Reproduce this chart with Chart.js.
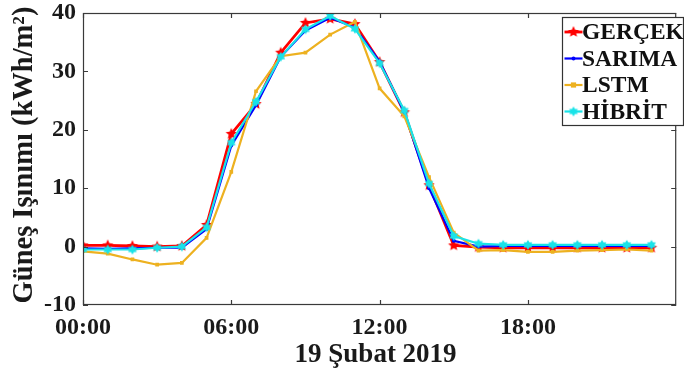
<!DOCTYPE html>
<html>
<head>
<meta charset="utf-8">
<script src="https://cdn.jsdelivr.net/npm/chart.js@4.4.1/dist/chart.umd.min.js"></script>
<style>
html,body{margin:0;padding:0;background:#fff;}
#wrap{width:684px;height:383px;position:relative;}
</style>
</head>
<body>
<div id="wrap"><canvas id="c" width="684" height="383"></canvas></div>
<script>
const hours = [0,1,2,3,4,5,6,7,8,9,10,11,12,13,14,15,16,17,18,19,20,21,22,23];
const gercek = [0.2,0.2,0.1,0.0,0.1,3.7,19.3,24.4,33.2,38.3,39.0,38.1,31.6,23.0,10.5,0.2,-0.1,-0.2,-0.2,-0.2,-0.2,-0.2,-0.2,-0.2];
const sarima = [-0.3,-0.4,-0.3,-0.2,-0.2,3.0,17.3,24.2,32.5,37.0,39.2,37.5,31.7,23.0,10.0,1.0,0.0,0.1,0.1,0.1,0.1,0.1,0.1,0.1];
const lstm   = [-0.8,-1.2,-2.2,-3.1,-2.8,1.5,12.8,26.6,32.6,33.2,36.3,38.5,27.1,22.3,11.9,2.4,-0.7,-0.6,-0.9,-0.9,-0.7,-0.6,-0.5,-0.7];
const hibrit = [-0.5,-0.5,-0.5,-0.2,0.0,3.3,17.8,24.8,32.5,37.2,39.5,37.3,31.4,23.3,10.8,1.8,0.5,0.3,0.3,0.3,0.3,0.3,0.3,0.3];
const seriesNames = ['GERÇEK','SARIMA','LSTM','HİBRİT'];
const xTickValues = [0,6,12,18];
const xTickLabels = ['00:00','06:00','12:00','18:00'];
const yTickValues = [-10,0,10,20,30,40];
const xTitle = '19 Şubat 2019';
const yTitle = 'Güneş Işınımı (kWh/m²)';

const FONT = '"Liberation Serif","Times New Roman",serif';
const colors = ['#ff0000','#0000ff','#edb120','#19e3e8'];

function starCanvas(color, n, outer, inner) {
  const s = Math.ceil(outer*2+2);
  const cv = document.createElement('canvas');
  cv.width = s; cv.height = s;
  const g = cv.getContext('2d');
  g.fillStyle = color;
  g.beginPath();
  for (let i = 0; i < n*2; i++) {
    const r = i % 2 === 0 ? outer : inner;
    const a = -Math.PI/2 + i*Math.PI/n;
    const px = s/2 + r*Math.cos(a), py = s/2 + r*Math.sin(a);
    if (i === 0) g.moveTo(px, py); else g.lineTo(px, py);
  }
  g.closePath();
  g.fill();
  return cv;
}
const redStar = starCanvas('#ff0000', 5, 6, 2.8);
const cyanStar = starCanvas('#19e3e8', 6, 5, 3);

function pts(arr){ return hours.map((h,i)=>({x:h,y:arr[i]})); }

const datasets = [
  {label:seriesNames[0], data:pts(gercek), borderColor:colors[0], backgroundColor:colors[0], borderWidth:2.8, pointStyle:redStar, pointRadius:5, order:4},
  {label:seriesNames[1], data:pts(sarima), borderColor:colors[1], backgroundColor:colors[1], borderWidth:2.2, pointStyle:'circle', pointRadius:2, pointBorderWidth:0, order:3},
  {label:seriesNames[2], data:pts(lstm), borderColor:colors[2], backgroundColor:colors[2], borderWidth:2.2, pointStyle:'rect', pointRadius:2.6, pointBorderWidth:0, order:2},
  {label:seriesNames[3], data:pts(hibrit), borderColor:colors[3], backgroundColor:colors[3], borderWidth:2.2, pointStyle:cyanStar, pointRadius:4, order:1}
];

const AXIS = '#3a3a3a';
const framePlugin = {
  id:'frame',
  afterDraw(chart){
    const {ctx, chartArea:a, scales:{x,y}} = chart;
    ctx.save();
    ctx.strokeStyle = AXIS;
    ctx.lineWidth = 1.2;
    ctx.strokeRect(a.left+0.5, a.top+0.5, a.right-a.left-1, a.bottom-a.top-1);
    const L = 5;
    ctx.beginPath();
    xTickValues.forEach(v=>{
      const px = Math.round(x.getPixelForValue(v))+0.5;
      ctx.moveTo(px,a.bottom); ctx.lineTo(px,a.bottom-L);
      ctx.moveTo(px,a.top); ctx.lineTo(px,a.top+L);
    });
    yTickValues.forEach(v=>{
      const py = Math.round(y.getPixelForValue(v))+0.5;
      ctx.moveTo(a.left,py); ctx.lineTo(a.left+L,py);
      ctx.moveTo(a.right,py); ctx.lineTo(a.right-L,py);
    });
    ctx.stroke();
    // titles
    ctx.fillStyle = '#1a1a1a';
    ctx.font = 'bold 27px '+FONT;
    ctx.textAlign = 'center';
    ctx.textBaseline = 'middle';
    ctx.fillText(xTitle, (a.left+a.right)/2 - 4, 355);
    ctx.save();
    ctx.translate(25, (a.top+a.bottom)/2 - 4);
    ctx.rotate(-Math.PI/2);
    ctx.font = 'bold 28.5px '+FONT;
    ctx.fillText(yTitle, 0, 0);
    ctx.restore();
    // legend
    const bx = 562.5, by = 17.5, bw = 121, bh = 108;
    ctx.fillStyle = '#fff';
    ctx.fillRect(bx, by, bw, bh);
    ctx.strokeStyle = '#333';
    ctx.lineWidth = 1.2;
    ctx.strokeRect(bx, by, bw, bh);
    ctx.font = 'bold 23.5px '+FONT;
    ctx.textAlign = 'left';
    chart.data.datasets.forEach((ds,i)=>{
      const cy = 32 + i*26.5;
      ctx.strokeStyle = ds.borderColor;
      ctx.lineWidth = ds.borderWidth;
      ctx.beginPath(); ctx.moveTo(bx+2, cy); ctx.lineTo(bx+20, cy); ctx.stroke();
      const ps = ds.pointStyle;
      if (ps instanceof HTMLCanvasElement) {
        ctx.drawImage(ps, bx+11-ps.width/2, cy-ps.height/2);
      } else {
        ctx.fillStyle = ds.borderColor;
        if (ps==='rect') ctx.fillRect(bx+11-2.6, cy-2.6, 5.2, 5.2);
        else { ctx.beginPath(); ctx.arc(bx+11, cy, 2, 0, Math.PI*2); ctx.fill(); }
      }
      ctx.fillStyle = '#111';
      ctx.fillText(ds.label, bx+19.5, cy+1);
    });
    ctx.restore();
  }
};

new Chart(document.getElementById('c'), {
  type:'line',
  data:{datasets},
  options:{
    responsive:false,
    animation:false,
    devicePixelRatio:1,
    layout:{padding:{top:13,right:0,left:0,bottom:0}},
    plugins:{legend:{display:false}, tooltip:{enabled:false}},
    elements:{line:{tension:0}},
    scales:{
      x:{
        type:'linear', min:0, max:24,
        grid:{display:false, drawTicks:false},
        border:{display:false},
        afterBuildTicks(s){ s.ticks = xTickValues.map(v=>({value:v})); },
        ticks:{
          autoSkip:false, maxRotation:0, padding:8, color:'#1a1a1a',
          font:{family:FONT, size:24, weight:'bold'},
          callback(v){ const i = xTickValues.indexOf(v); return i>=0 ? xTickLabels[i] : ''; }
        },
        afterFit(s){ s.height = 78; s.paddingLeft = 0; s.paddingRight = 0; }
      },
      y:{
        type:'linear', min:-10, max:40,
        grid:{display:false, drawTicks:false},
        border:{display:false},
        afterBuildTicks(s){ s.ticks = yTickValues.map(v=>({value:v})); },
        ticks:{
          padding:7, color:'#1a1a1a',
          font:{family:FONT, size:24, weight:'bold', lineHeight:1},
          callback(v){ return String(v); }
        },
        afterFit(s){ s.width = 83; s.paddingTop = 0; s.paddingBottom = 0; }
      }
    }
  },
  plugins:[framePlugin]
});
</script>
</body>
</html>
